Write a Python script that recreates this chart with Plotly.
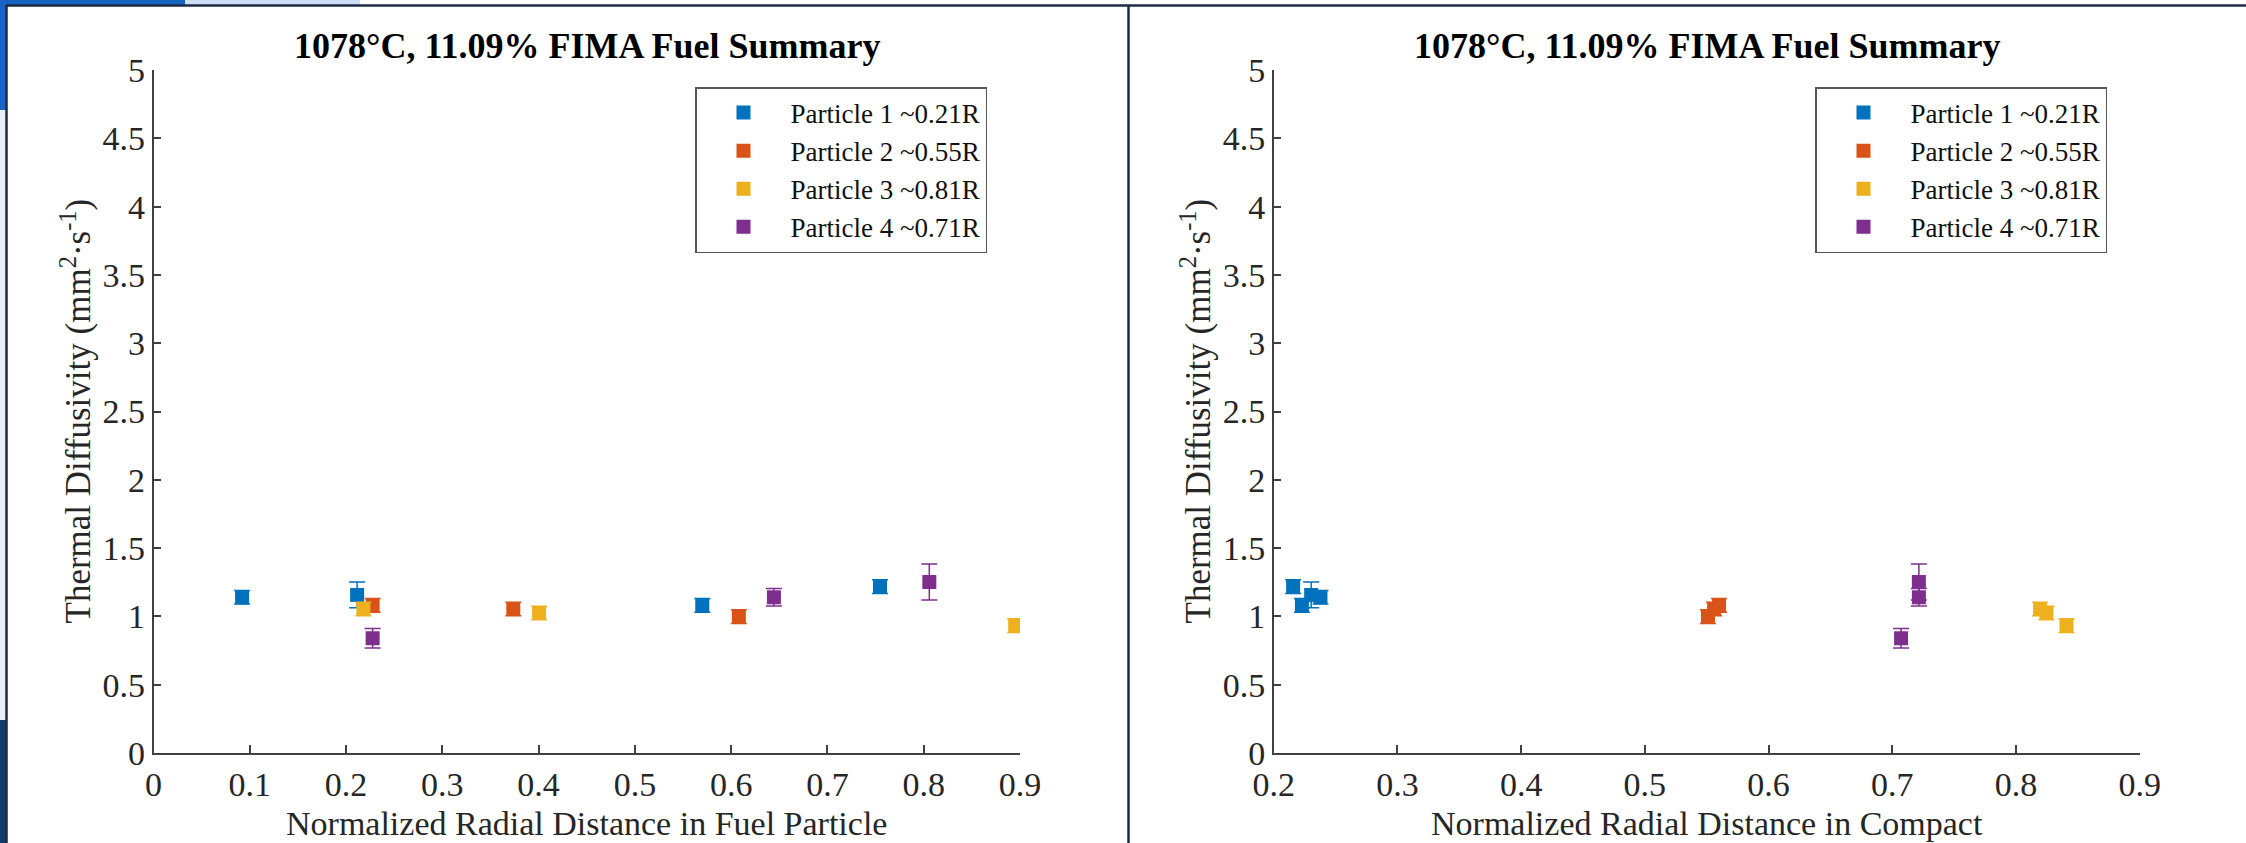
import plotly.graph_objects as go

W, H = 2246, 843

# ---- data -------------------------------------------------------------
particle_names = ["Particle 1 ~0.21R", "Particle 2 ~0.55R",
                  "Particle 3 ~0.81R", "Particle 4 ~0.71R"]
particle_colors = ["#0072BD", "#D95319", "#EDB120", "#7E2F8E"]

# radial position inside the fuel particle
p1_fuel_x = [0.092, 0.2115, 0.570, 0.7546]
p2_fuel_x = [0.2276, 0.3737, 0.608]
p3_fuel_x = [0.218, 0.4005, 0.895]
p4_fuel_x = [0.2276, 0.6444, 0.8058]

# radial position inside the compact
p1_compact_x = [0.2378, 0.2303, 0.2228, 0.2157]
p2_compact_x = [0.560, 0.556, 0.551]
p3_compact_x = [0.8195, 0.8246, 0.8408]
p4_compact_x = [0.7071, 0.7215, 0.7215]

# thermal diffusivity (mm^2/s) and its uncertainty
p1_diff = [1.140, 1.157, 1.081, 1.218]
p2_diff = [1.081, 1.054, 0.998]
p3_diff = [1.054, 1.025, 0.932]
p4_diff = [0.840, 1.140, 1.252]

p1_err = [0.05, 0.094, 0.05, 0.05]
p2_err = [0.05, 0.05, 0.05]
p3_err = [0.05, 0.05, 0.05]
p4_err = [0.072, 0.064, 0.132]

y_ticks = [0, 0.5, 1, 1.5, 2, 2.5, 3, 3.5, 4, 4.5, 5]
y_tick_text = ["0", "0.5", "1", "1.5", "2", "2.5", "3", "3.5", "4", "4.5", "5"]
fuel_ticks = [0, 0.1, 0.2, 0.3, 0.4, 0.5, 0.6, 0.7, 0.8, 0.9]
fuel_tick_text = ["0", "0.1", "0.2", "0.3", "0.4", "0.5", "0.6", "0.7", "0.8", "0.9"]
compact_ticks = [0.2, 0.3, 0.4, 0.5, 0.6, 0.7, 0.8, 0.9]
compact_tick_text = ["0.2", "0.3", "0.4", "0.5", "0.6", "0.7", "0.8", "0.9"]

title_text = "1078°C, 11.09% FIMA Fuel Summary"
fuel_xlabel = "Normalized Radial Distance in Fuel Particle"
compact_xlabel = "Normalized Radial Distance in Compact"
ylabel = "Thermal Diffusivity (mm<sup>2</sup>·s<sup>-1</sup>)"

fuel_x = [p1_fuel_x, p2_fuel_x, p3_fuel_x, p4_fuel_x]
compact_x = [p1_compact_x, p2_compact_x, p3_compact_x, p4_compact_x]
diffs = [p1_diff, p2_diff, p3_diff, p4_diff]
errs = [p1_err, p2_err, p3_err, p4_err]

# ---- helpers ----------------------------------------------------------
SERIF = "Liberation Serif, Times New Roman, serif"
AXIS_COLOR = "#404040"
TEXT_COLOR = "#262626"
NAVY = "#1c2b45"


def px(x):
    return x / W


def py(y):
    return 1 - y / H


fig = go.Figure()

panels = [
    dict(xs=fuel_x, xaxis="x", yaxis="y", legend="legend"),
    dict(xs=compact_x, xaxis="x2", yaxis="y2", legend="legend2"),
]

for panel in panels:
    for name, color, xs, ys, es in zip(particle_names, particle_colors,
                                       panel["xs"], diffs, errs):
        fig.add_trace(go.Scatter(
            x=xs, y=ys, name=name, mode="markers",
            xaxis=panel["xaxis"], yaxis=panel["yaxis"], legend=panel["legend"],
            marker=dict(symbol="square", size=14, color=color, line=dict(width=0)),
            error_y=dict(type="data", array=es, visible=True, color=color,
                         thickness=1.5, width=8),
        ))

# panel geometry in pixels
left_x0, left_x1 = 153.5, 1020.0
right_x0, right_x1 = 1273.7, 2139.7
plot_top, plot_bottom = 70.0, 753.0

axis_common = dict(
    showline=True, linecolor=AXIS_COLOR, linewidth=1.5,
    ticks="inside", ticklen=8, tickwidth=1.5, tickcolor=AXIS_COLOR,
    showgrid=False, zeroline=False, automargin=False,
    tickfont=dict(family=SERIF, size=34, color=TEXT_COLOR),
)

fig.update_layout(
    width=W, height=H,
    margin=dict(l=0, r=0, t=0, b=0, pad=0),
    paper_bgcolor="white", plot_bgcolor="white",
    showlegend=True,
    xaxis=dict(domain=[px(left_x0), px(left_x1)], range=[0, 0.9],
               tickvals=fuel_ticks, ticktext=fuel_tick_text, anchor="y",
               **axis_common),
    yaxis=dict(domain=[py(plot_bottom), py(plot_top)], range=[0, 5],
               tickvals=y_ticks, ticktext=y_tick_text, anchor="x",
               **axis_common),
    xaxis2=dict(domain=[px(right_x0), px(right_x1)], range=[0.2, 0.9],
                tickvals=compact_ticks, ticktext=compact_tick_text, anchor="y2",
                **axis_common),
    yaxis2=dict(domain=[py(plot_bottom), py(plot_top)], range=[0, 5],
                tickvals=y_ticks, ticktext=y_tick_text, anchor="x2",
                **axis_common),
)

legend_common = dict(
    xanchor="left", yanchor="top",
    bgcolor="white", bordercolor="#555555", borderwidth=1.5,
    font=dict(family=SERIF, size=27, color="#111111"),
    itemwidth=84, tracegroupgap=0,
)
fig.update_layout(
    legend=dict(x=px(695), y=py(87), **legend_common),
    legend2=dict(x=px(1815), y=py(87), **legend_common),
)

# titles and axis labels
annotations = []
for cx, ylab_x, xlabel in [((left_x0 + left_x1) / 2, 76, fuel_xlabel),
                           ((right_x0 + right_x1) / 2, 1196, compact_xlabel)]:
    annotations.append(dict(
        text="<b>" + title_text + "</b>", x=px(cx), y=py(46),
        xref="paper", yref="paper", xanchor="center", yanchor="middle",
        showarrow=False, font=dict(family=SERIF, size=36, color="#000000")))
    annotations.append(dict(
        text=xlabel, x=px(cx), y=py(823),
        xref="paper", yref="paper", xanchor="center", yanchor="middle",
        showarrow=False, font=dict(family=SERIF, size=34, color=TEXT_COLOR)))
    annotations.append(dict(
        text=ylabel, x=px(ylab_x), y=py((plot_top + plot_bottom) / 2),
        xref="paper", yref="paper", xanchor="center", yanchor="middle",
        textangle=-90, showarrow=False,
        font=dict(family=SERIF, size=35, color=TEXT_COLOR)))
fig.update_layout(annotations=annotations)

# slide backdrop and frame lines around the two panels
shapes = [
    dict(type="rect", x0=px(0), x1=px(185), y0=py(0), y1=py(5),
         fillcolor="#1565c0", line=dict(width=0), layer="below"),
    dict(type="rect", x0=px(185), x1=px(360), y0=py(0), y1=py(5),
         fillcolor="#cfe0f4", line=dict(width=0), layer="below"),
    dict(type="rect", x0=px(0), x1=px(6), y0=py(0), y1=py(110),
         fillcolor="#1a62c4", line=dict(width=0), layer="below"),
    dict(type="rect", x0=px(0), x1=px(6), y0=py(110), y1=py(720),
         fillcolor="#e9eef6", line=dict(width=0), layer="below"),
    dict(type="rect", x0=px(0), x1=px(6), y0=py(720), y1=py(843),
         fillcolor="#153a6e", line=dict(width=0), layer="below"),
    dict(type="line", x0=px(6), x1=px(W), y0=py(5.5), y1=py(5.5),
         line=dict(color=NAVY, width=2.5)),
    dict(type="line", x0=px(6.5), x1=px(6.5), y0=py(5), y1=py(H),
         line=dict(color=NAVY, width=2.5)),
    dict(type="line", x0=px(1128.5), x1=px(1128.5), y0=py(5), y1=py(H),
         line=dict(color=NAVY, width=2.5)),
]
for s in shapes:
    s["xref"] = "paper"
    s["yref"] = "paper"
fig.update_layout(shapes=shapes)

fig.write_html("out.html")
